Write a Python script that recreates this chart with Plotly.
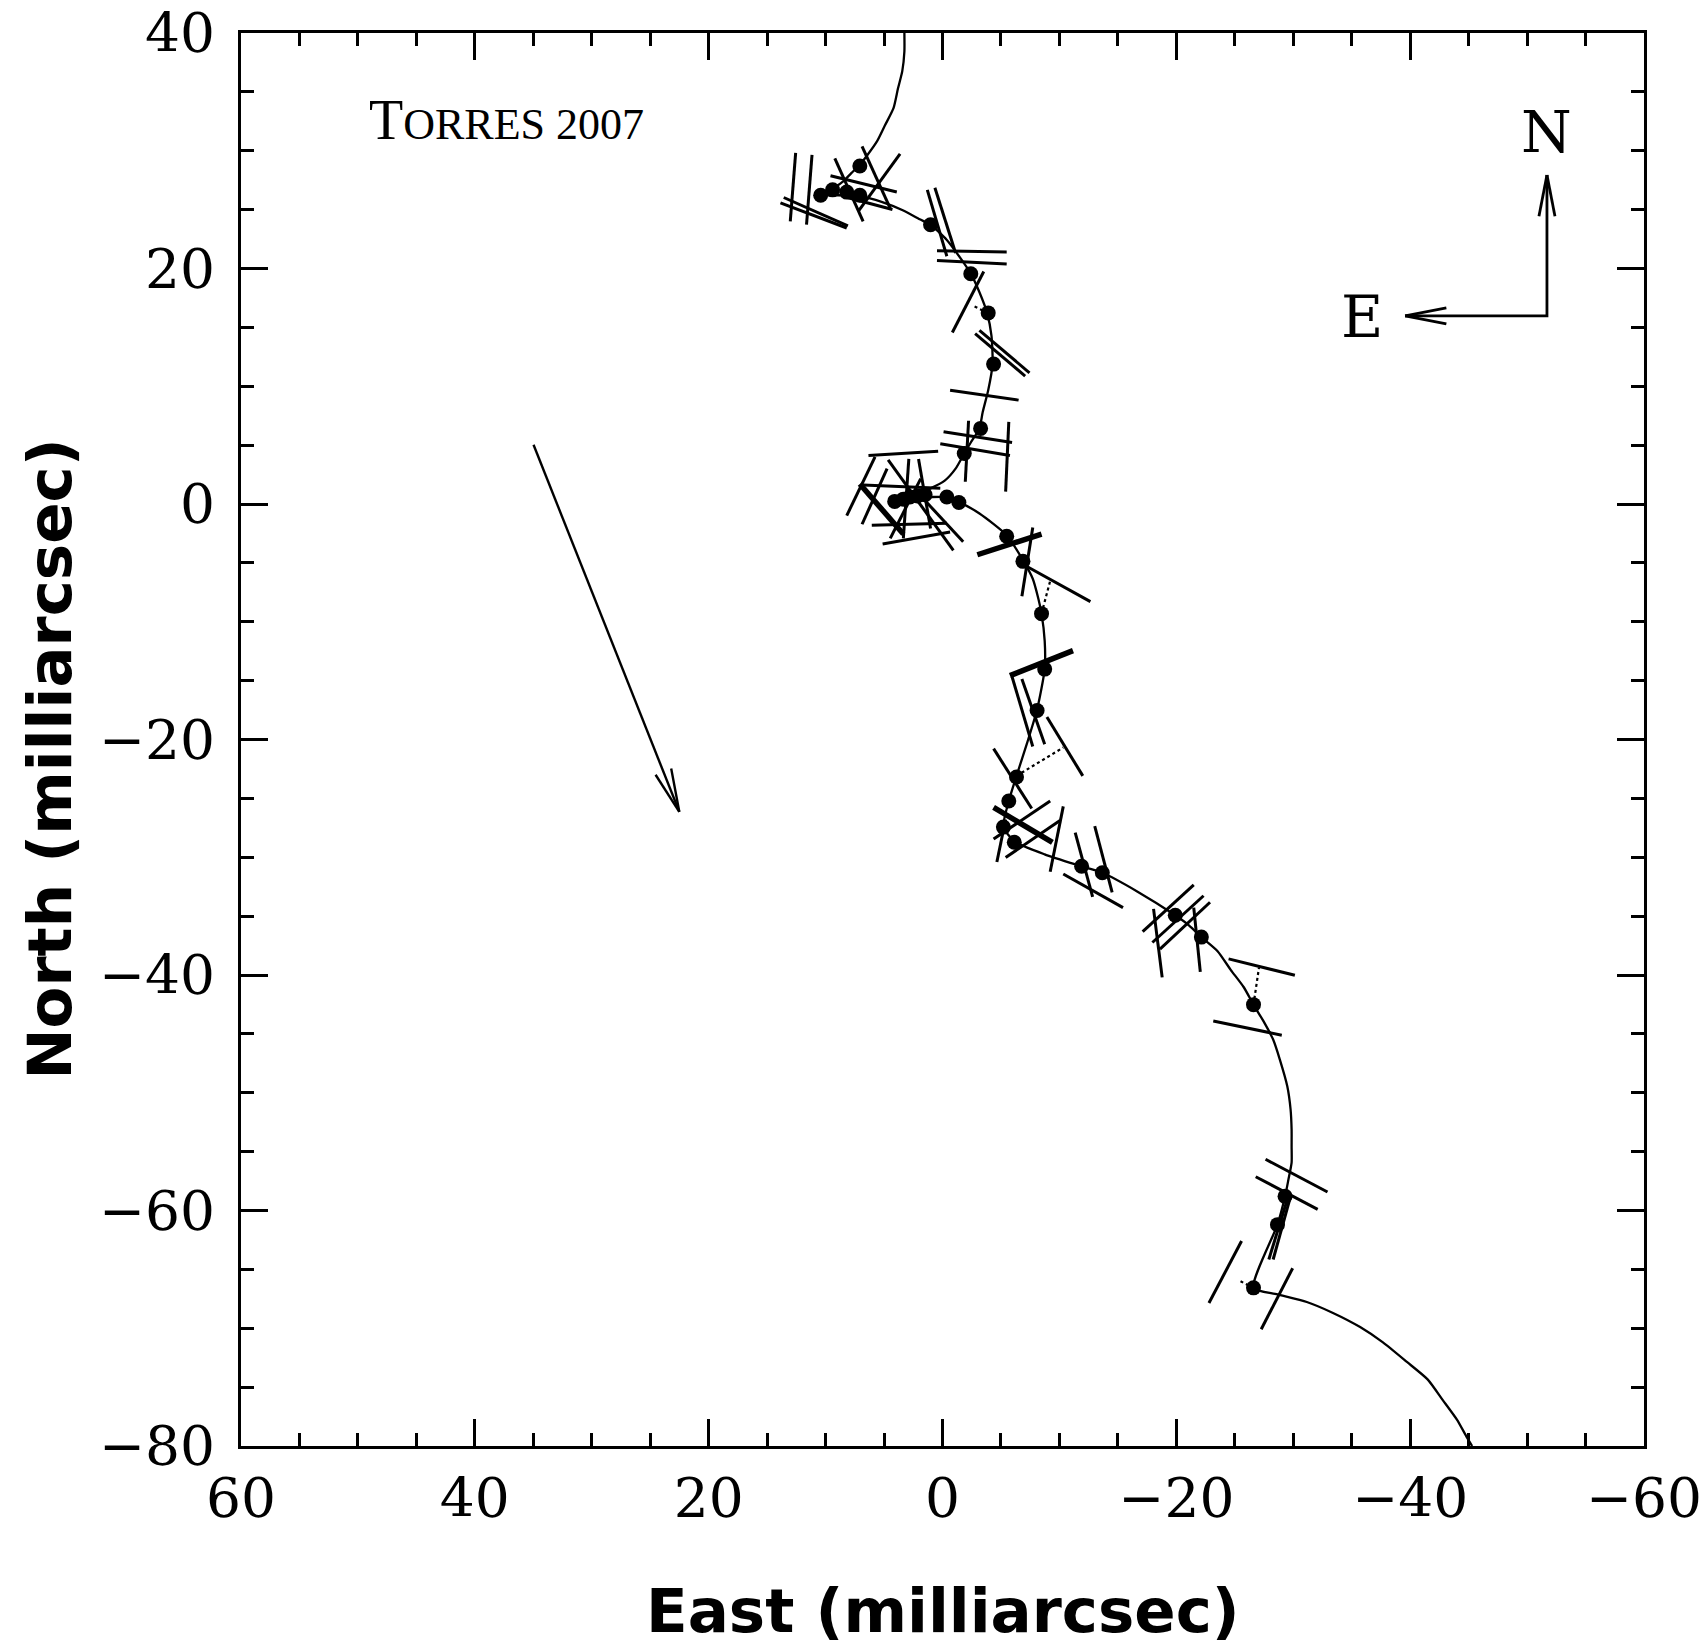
import math
import plotly.graph_objects as go

# ---------------- data (milliarcsec; East positive to the left) ----------------
# model path (solid curve)
curve_east = [3.26, 3.26, 3.44, 3.81, 4.19, 4.93, 5.58, 6.42, 7.07, 7.80, 8.47, 9.20, 9.86,
              10.42, 8.93, 7.07, 5.21, 3.35, 1.95, 1.02, -0.37, -1.49, -2.42, -3.16, -3.81,
              -4.19, -4.28, -3.91, -3.44, -3.16, -2.42, -1.86, -1.12, -0.19, 1.02, 2.42,
              4.09, 2.42, 1.02, -0.37, -1.30, -3.16, -5.49, -6.88, -7.72, -8.19, -8.47,
              -8.74, -8.74, -8.09, -7.26, -6.33, -5.67, -5.21, -6.14, -8.74, -11.90,
              -13.67, -16.65, -19.91, -21.10, -22.14, -23.53, -24.65, -25.77, -26.60,
              -27.44, -28.28, -28.84, -29.49, -29.77, -29.86, -29.86, -29.86, -29.58,
              -29.30, -28.65, -26.60, -28.65, -31.16, -33.40, -35.72, -37.67, -39.72,
              -41.49, -42.79, -44.00, -44.84, -45.30]
curve_north = [40.0, 38.43, 36.76, 35.28, 33.62, 32.14, 30.84, 29.64, 28.81, 28.10, 27.42,
               26.90, 26.49, 26.22, 26.22, 26.12, 25.66, 24.92, 24.18, 23.72, 22.42, 20.94,
               19.56, 17.98, 16.23, 14.28, 11.88, 9.66, 7.81, 6.42, 5.22, 4.29, 3.00, 1.98,
               1.33, 0.78, 0.41, 0.50, 0.59, 0.59, 0.22, -0.80, -2.65, -4.77, -6.35, -8.01,
               -9.31, -11.62, -14.02, -17.45, -20.22, -23.09, -25.22, -27.44, -28.64,
               -29.75, -30.77, -31.32, -32.90, -34.93, -35.80, -36.78, -37.98, -39.56,
               -41.04, -42.52, -43.90, -45.48, -47.14, -49.45, -51.40, -53.15, -54.54,
               -55.93, -57.41, -58.80, -61.20, -66.57, -67.12, -67.77, -68.70, -69.90,
               -71.20, -72.86, -74.34, -76.10, -77.76, -79.24, -80.0]

# observed (filled) positions
obs_east = [7.07, 10.42, 9.40, 8.19, 7.07, 1.02, -2.42, -3.91, -4.37, -3.26, -1.86,
            4.09, 3.35, 2.79, 2.14, 1.49, -0.37, -1.40, -5.49, -6.88, -8.47, -8.74,
            -8.09, -6.33, -5.67, -5.21, -6.14, -11.90, -13.67, -19.91, -22.14, -26.60,
            -29.30, -28.65, -26.60]
obs_north = [28.71, 26.22, 26.68, 26.49, 26.22, 23.72, 19.56, 16.23, 11.88, 6.42, 4.29,
             0.22, 0.41, 0.59, 0.68, 0.78, 0.59, 0.13, -2.74, -4.87, -9.31, -14.02,
             -17.54, -23.18, -25.22, -27.44, -28.73, -30.77, -31.32, -34.93, -36.78,
             -42.52, -58.80, -61.20, -66.57]

# one-dimensional measurement lines (end points)
line_e1 = [12.56, 11.16, 13.58, 13.86, 9.21, 6.88, 9.58, 3.63, 8.47, 1.30, 0.65, 0.47,
           0.47, -3.53, -2.79, -3.16, -0.65, -0.09, 0.19, -2.23, -5.67, 6.33, 6.79, 6.05,
           5.12, 8.19, 6.88, 4.65, 2.88, 2.05, 1.86, 4.47, -7.72, -7.26, -8.93, -5.95,
           -6.79, -4.37, -4.37, -4.65, -5.40, -9.21, -11.35, -13.02, -10.33, -17.12,
           -17.95, -18.60, -18.05, -21.49, -24.47, -23.16, -27.63, -26.79, -28.28,
           -27.91, -22.79, -27.26]
line_n1 = [29.82, 29.64, 26.03, 25.57, 29.36, 30.38, 27.88, 29.73, 26.12, 26.68, 26.86,
           21.50, 20.67, 19.74, 14.47, 14.75, 9.66, 6.14, 5.12, 7.07, 6.97, 4.11, 1.61,
           -1.81, -3.39, -0.98, -1.72, 3.74, 3.83, 3.83, 0.68, -2.92, -2.00, -5.33,
           -18.09, -14.67, -14.86, -20.78, -28.45, -30.40, -30.03, -31.23, -27.90,
           -27.35, -31.42, -36.32, -37.24, -37.80, -34.38, -34.28, -38.63, -43.90,
           -55.65, -57.13, -64.16, -64.16, -67.86, -70.08]
line_e2 = [13.02, 11.63, 8.09, 8.19, 6.79, 4.47, 3.91, 7.16, 4.28, -0.37, -1.12, -5.49,
           -5.49, -0.84, -7.07, -7.44, -6.51, -5.95, -5.77, -1.95, -5.40, 0.37, 0.19,
           -0.37, -0.65, 5.77, 4.74, -0.93, 3.35, 1.02, -1.77, 1.86, -6.79, -12.65,
           -12.00, -7.72, -8.74, -7.63, -9.21, -5.40, -10.05, -10.33, -12.84, -14.51,
           -15.44, -21.49, -22.33, -22.88, -18.79, -22.05, -30.14, -29.02, -32.93,
           -32.09, -29.77, -29.49, -25.58, -29.95]
line_n2 = [24.00, 23.72, 23.63, 23.44, 24.00, 25.11, 26.49, 24.92, 25.01, 21.04, 21.31,
           21.41, 20.39, 14.56, 10.86, 11.14, 8.82, 5.22, 4.11, 1.89, 1.05, 4.48, 1.33,
           -1.63, -2.37, 4.01, 3.00, -3.94, -2.92, -2.09, -3.20, 2.16, -7.83, -8.29,
           -23.09, -20.59, -20.41, -25.86, -25.22, -26.79, -26.88, -25.68, -33.36,
           -32.99, -34.28, -32.34, -33.27, -33.82, -40.20, -39.74, -40.02, -45.11,
           -58.43, -59.91, -58.80, -59.07, -62.59, -64.90]

# heavier measurement lines
thick_e1 = [7.07, -2.98, -5.77, -4.37]
thick_n1 = [1.70, -4.31, -14.58, -25.77]
thick_e2 = [3.35, -8.47, -11.16, -9.40]
thick_n2 = [-2.55, -2.55, -12.45, -28.73]

# dotted residual connectors
dot_e1 = [-6.33, -26.60, -25.49, -8.47, -3.91]
dot_n1 = [-23.09, -42.52, -66.01, -9.31, 16.23]
dot_e2 = [-10.33, -27.07, -26.60, -9.21, -2.51]
dot_n2 = [-20.68, -39.37, -66.57, -6.53, 16.87]

# arrows: motion arrow and compass
motion_arrow = [(34.98, 5.03), (22.51, -26.14)]
compass_corner = (-51.7, 15.97)
compass_north_tip = (-51.7, 27.94)
compass_east_tip = (-39.57, 15.97)

x_ticks = [60, 40, 20, 0, -20, -40, -60]
y_ticks = [40, 20, 0, -20, -40, -60, -80]

# ---------------- figure geometry ----------------
W, H = 1706, 1650
ML, MR, MT, MB = 241, 62, 33, 204
XR = [60, -60]
YR = [-80, 40]
PXX = (W - ML - MR) / (XR[0] - XR[1])   # px per mas horizontally
PXY = (H - MT - MB) / (YR[1] - YR[0])   # px per mas vertically


def seg_lists(e1, n1, e2, n2):
    xs, ys = [], []
    for a, b, c, d in zip(e1, n1, e2, n2):
        xs += [a, c, None]
        ys += [b, d, None]
    return xs, ys


def head_lists(tail, tip, length=44, half_angle=11):
    # open V arrow head, computed in screen-pixel space
    X0, Y0 = -tail[0] * PXX, tail[1] * PXY
    X1, Y1 = -tip[0] * PXX, tip[1] * PXY
    dx, dy = X1 - X0, Y1 - Y0
    d = math.hypot(dx, dy)
    ux, uy = -dx / d, -dy / d
    xs, ys = [], []
    for s in (1, -1):
        a = math.radians(half_angle) * s
        bx = ux * math.cos(a) - uy * math.sin(a)
        by = ux * math.sin(a) + uy * math.cos(a)
        xs += [-(X1 + length * bx) / PXX, tip[0], None]
        ys += [(Y1 + length * by) / PXY, tip[1], None]
    return xs, ys


fig = go.Figure()

# measurement lines
lx, ly = seg_lists(line_e1, line_n1, line_e2, line_n2)
fig.add_trace(go.Scatter(x=lx, y=ly, mode="lines",
                         line=dict(color="black", width=3), hoverinfo="skip"))
tx, ty = seg_lists(thick_e1, thick_n1, thick_e2, thick_n2)
fig.add_trace(go.Scatter(x=tx, y=ty, mode="lines",
                         line=dict(color="black", width=5.5), hoverinfo="skip"))
dx_, dy_ = seg_lists(dot_e1, dot_n1, dot_e2, dot_n2)
fig.add_trace(go.Scatter(x=dx_, y=dy_, mode="lines",
                         line=dict(color="black", width=2.2, dash="dot"), hoverinfo="skip"))

# model curve
fig.add_trace(go.Scatter(x=curve_east, y=curve_north, mode="lines",
                         line=dict(color="black", width=2.3, shape="spline", smoothing=0.6),
                         hoverinfo="skip"))

# observations
fig.add_trace(go.Scatter(x=obs_east, y=obs_north, mode="markers",
                         marker=dict(color="black", size=15)))

# motion arrow
ax = [motion_arrow[0][0], motion_arrow[1][0], None]
ay = [motion_arrow[0][1], motion_arrow[1][1], None]
hx, hy = head_lists(motion_arrow[0], motion_arrow[1])
fig.add_trace(go.Scatter(x=ax + hx, y=ay + hy, mode="lines",
                         line=dict(color="black", width=2.4), hoverinfo="skip"))

# compass
cx = [compass_north_tip[0], compass_corner[0], compass_east_tip[0], None]
cy = [compass_north_tip[1], compass_corner[1], compass_east_tip[1], None]
hx1, hy1 = head_lists(compass_corner, compass_north_tip, length=42, half_angle=11)
hx2, hy2 = head_lists(compass_corner, compass_east_tip, length=42, half_angle=11)
fig.add_trace(go.Scatter(x=cx + hx1 + hx2, y=cy + hy1 + hy2, mode="lines",
                         line=dict(color="black", width=2.8), hoverinfo="skip"))

annotations = [
    dict(x=37.3, y=32.6, xref="x", yref="y", showarrow=False,
         text="T<span style='font-size:44px'>ORRES 2007</span>",
         font=dict(family="Liberation Serif", size=56, color="black")),
    dict(x=-51.7, y=31.6, xref="x", yref="y", showarrow=False, text="N",
         font=dict(family="DejaVu Serif", size=58, color="black")),
    dict(x=-35.9, y=15.9, xref="x", yref="y", showarrow=False, text="E",
         font=dict(family="DejaVu Serif", size=58, color="black")),
    dict(x=0.5, y=0, xref="paper", yref="paper", showarrow=False,
         yanchor="middle", yshift=-164, text="<b>East (milliarcsec)</b>",
         font=dict(family="DejaVu Sans", size=61, color="black")),
    dict(x=0, y=0.5, xref="paper", yref="paper", showarrow=False,
         xanchor="center", yanchor="middle", xshift=-192, yshift=-20, textangle=-90,
         text="<b>North (milliarcsec)</b>",
         font=dict(family="DejaVu Sans", size=61, color="black")),
]

axis_common = dict(
    automargin=False,
    showgrid=False, zeroline=False, showline=True, linewidth=3, linecolor="black",
    mirror="allticks", ticks="inside", ticklen=27, tickwidth=3, tickcolor="black",
    tickfont=dict(family="DejaVu Serif", size=55, color="black"),
    minor=dict(dtick=5, ticks="inside", ticklen=13, tickwidth=3, tickcolor="black",
               showgrid=False),
)

fig.update_layout(
    width=W, height=H,
    margin=dict(l=ML, r=MR, t=MT, b=MB, autoexpand=False),
    paper_bgcolor="white", plot_bgcolor="white",
    showlegend=False,
    annotations=annotations,
    xaxis=dict(range=XR, tickmode="array", tickvals=x_ticks,
               ticklabelstandoff=2, **axis_common),
    yaxis=dict(range=YR, tickmode="array", tickvals=y_ticks,
               ticklabelstandoff=12, **axis_common),
)

fig.write_html("out.html")
